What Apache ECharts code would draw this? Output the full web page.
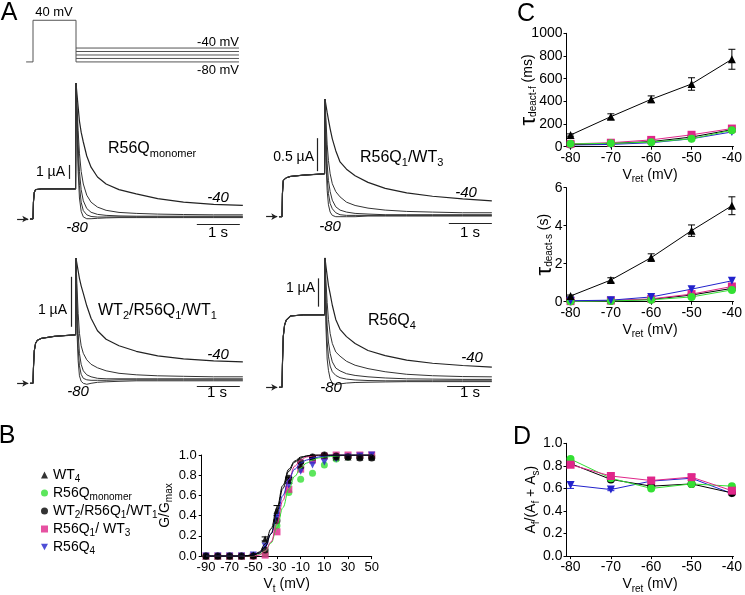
<!DOCTYPE html>
<html><head><meta charset="utf-8">
<script src="https://cdn.jsdelivr.net/npm/echarts@6/dist/echarts.min.js"></script>
<style>html,body{margin:0;padding:0;background:#fff}#c{width:745px;height:595px}</style>
</head><body><div id="c"></div>
<script>
// ================= DATA =================
// Panel A: voltage protocol (mV)
const protoHold = -80, protoStep = 40;
const protoTailV = [-40, -50, -60, -70, -80];
const protoTime = [-0.16, 0, 1, 4.79];           // s: start, step on, step off, end

// Panel A: current traces (µA) vs time (s); activation part then tail part
const tAct  = [-0.07, 0, 0.01, 0.03, 0.06, 0.1, 0.2, 0.5, 0.99];
const tTail = [1.0, 1.02, 1.05, 1.08, 1.12, 1.17, 1.25, 1.35, 1.5, 1.7, 2.0, 2.4, 2.9, 3.5, 4.2, 4.88];

const actMono = [0, 0, 1.2, 1.9, 2.1, 2.15, 2.15, 2.15, 2.15];
const tailsMono = [
  [9.7, 9.0, 8.0, 7.0, 6.2, 5.5, 4.5, 3.7, 3.0, 2.5, 2.1, 1.8, 1.45, 1.2, 1.05, 0.98],
  [9.7, 8.3, 6.3, 4.7, 3.4, 2.5, 1.7, 1.2, 0.85, 0.62, 0.47, 0.4, 0.35, 0.32, 0.3, 0.3],
  [9.7, 7.8, 5.3, 3.4, 2.1, 1.3, 0.75, 0.48, 0.33, 0.26, 0.22, 0.2, 0.2, 0.2, 0.2, 0.2],
  [9.7, 7.3, 4.3, 2.4, 1.2, 0.6, 0.3, 0.18, 0.14, 0.14, 0.15, 0.15, 0.15, 0.15, 0.15, 0.15],
  [9.7, 6.8, 3.4, 1.5, 0.55, 0.15, 0.02, 0.02, 0.05, 0.08, 0.1, 0.1, 0.1, 0.1, 0.1, 0.1]
];
const actQ1WT3 = [0, 0, 0.35, 0.55, 0.58, 0.59, 0.61, 0.63, 0.65];
const tailsQ1WT3 = [
  [1.78, 1.7, 1.58, 1.47, 1.33, 1.18, 1.0, 0.83, 0.72, 0.62, 0.52, 0.43, 0.36, 0.31, 0.27, 0.24],
  [1.78, 1.5, 1.1, 0.85, 0.65, 0.5, 0.38, 0.3, 0.22, 0.17, 0.13, 0.1, 0.08, 0.07, 0.06, 0.06],
  [1.78, 1.3, 0.8, 0.55, 0.38, 0.25, 0.15, 0.1, 0.07, 0.05, 0.04, 0.03, 0.03, 0.03, 0.03, 0.03],
  [1.78, 1.1, 0.6, 0.35, 0.2, 0.12, 0.06, 0.03, 0.02, 0.02, 0.02, 0.02, 0.02, 0.02, 0.02, 0.02],
  [1.78, 0.9, 0.4, 0.18, 0.07, 0.02, 0.0, 0.0, 0.0, 0.0, 0.01, 0.01, 0.01, 0.01, 0.01, 0.01]
];
const actWT2Q1WT1 = [0, 0, 0.3, 0.65, 0.8, 0.86, 0.9, 0.94, 0.97];
const tailsWT2Q1WT1 = [
  [2.5, 2.4, 2.25, 2.1, 1.95, 1.8, 1.55, 1.3, 1.05, 0.88, 0.75, 0.64, 0.55, 0.49, 0.45, 0.43],
  [2.5, 2.0, 1.4, 1.0, 0.75, 0.6, 0.47, 0.38, 0.31, 0.25, 0.2, 0.17, 0.15, 0.14, 0.13, 0.13],
  [2.5, 1.7, 1.0, 0.6, 0.38, 0.25, 0.17, 0.13, 0.1, 0.09, 0.09, 0.09, 0.09, 0.09, 0.09, 0.09],
  [2.5, 1.4, 0.7, 0.35, 0.18, 0.1, 0.07, 0.06, 0.06, 0.06, 0.07, 0.07, 0.07, 0.07, 0.07, 0.07],
  [2.5, 1.1, 0.45, 0.15, 0.04, 0.0, -0.02, 0.0, 0.02, 0.03, 0.04, 0.05, 0.05, 0.05, 0.05, 0.05]
];
const actQ4 = [0, 0, 0.8, 1.8, 2.2, 2.38, 2.52, 2.56, 2.56];
const tailsQ4 = [
  [4.57, 4.3, 3.95, 3.6, 3.3, 2.9, 2.4, 2.05, 1.79, 1.55, 1.3, 1.12, 0.96, 0.85, 0.77, 0.71],
  [4.57, 3.8, 3.0, 2.4, 1.9, 1.55, 1.25, 1.1, 0.92, 0.78, 0.66, 0.55, 0.46, 0.41, 0.38, 0.37],
  [4.57, 3.3, 2.2, 1.6, 1.2, 0.9, 0.68, 0.58, 0.48, 0.42, 0.37, 0.33, 0.3, 0.29, 0.28, 0.28],
  [4.57, 2.8, 1.6, 1.1, 0.75, 0.55, 0.42, 0.34, 0.29, 0.26, 0.24, 0.23, 0.23, 0.23, 0.23, 0.23],
  [4.57, 2.2, 1.0, 0.6, 0.3, 0.14, 0.1, 0.12, 0.15, 0.17, 0.18, 0.19, 0.2, 0.2, 0.2, 0.2]
];
// scale bars: 1 s and current bar size (µA)
const scaleCurrent = [1, 0.5, 1, 1];

// Panel B: G/Gmax vs Vt
const vTest = [-90, -80, -70, -60, -50, -40, -30, -20, -10, 0, 10, 20, 30, 40, 50];
const gWT4      = [0, 0, 0, 0, 0.01, 0.17, 0.45, 0.75, 0.9, 0.98, 1.0, 0.98, 0.98, 0.98, 0.98];
const gMono     = [0, 0, 0, 0, 0, 0.02, 0.3, 0.63, 0.76, 0.82, 0.9, 0.96, 0.98, 0.99, 0.99];
const gWT2Q1WT1 = [0, 0, 0, 0, 0, 0.06, 0.35, 0.77, 0.93, 0.98, 1.0, 0.99, 0.98, 0.97, 0.97];
const gQ1WT3    = [0, 0, 0, 0, 0, 0.01, 0.24, 0.66, 0.86, 0.95, 0.99, 1.0, 1.0, 1.0, 1.0];
const gQ4       = [0, 0, 0, 0, 0.01, 0.1, 0.38, 0.7, 0.84, 0.9, 0.93, 0.96, 0.98, 0.99, 1.0];
const semWT4B   = [0, 0, 0, 0, 0.01, 0.02, 0.05, 0.03, 0.02, 0.01, 0, 0.01, 0.01, 0.01, 0.01];
// fitted Boltzmann curves
const fitV        = [-90, -60, -50, -45, -40, -35, -30, -25, -20, -15, -10, -5, 0, 5, 10, 20, 30, 50];
const fitWT4      = [0, 0, 0.01, 0.04, 0.12, 0.27, 0.48, 0.7, 0.86, 0.94, 0.98, 0.99, 1, 1, 1, 1, 1, 1];
const fitWT2Q1WT1 = [0, 0, 0.01, 0.03, 0.09, 0.22, 0.44, 0.67, 0.84, 0.93, 0.97, 0.99, 1, 1, 1, 1, 1, 1];
const fitQ1WT3    = [0, 0, 0, 0.01, 0.05, 0.14, 0.32, 0.55, 0.76, 0.89, 0.95, 0.98, 0.99, 1, 1, 1, 1, 1];
const fitMono     = [0, 0, 0, 0.02, 0.05, 0.13, 0.28, 0.48, 0.66, 0.79, 0.87, 0.92, 0.95, 0.97, 0.98, 0.99, 1, 1];
const fitQ4       = [0, 0, 0.01, 0.03, 0.1, 0.22, 0.4, 0.6, 0.76, 0.86, 0.92, 0.95, 0.97, 0.98, 0.99, 1, 1, 1];

// Panel C: deactivation time constants vs Vret
const vRet = [-80, -70, -60, -50, -40];
const tauF_WT4      = [103, 265, 418, 553, 771];
const tauF_WT4_sem  = [10, 25, 30, 55, 88];
const tauF_Q1WT3    = [25, 35, 60, 105, 160];
const tauF_WT2Q1WT1 = [20, 30, 45, 85, 150];
const tauF_Mono     = [25, 30, 40, 70, 145];
const tauF_Q4       = [15, 20, 35, 70, 130];
const tauS_WT4      = [0.3, 1.14, 2.32, 3.74, 5.05];
const tauS_WT4_sem  = [0.05, 0.12, 0.2, 0.3, 0.47];
const tauS_Q4       = [0.05, 0.08, 0.25, 0.66, 1.1];
const tauS_Q1WT3    = [0.03, 0.06, 0.15, 0.4, 0.8];
const tauS_WT2Q1WT1 = [0.02, 0.05, 0.12, 0.35, 0.7];
const tauS_Mono     = [0.02, 0.04, 0.1, 0.25, 0.62];

// Panel D: fast fraction
const afMono     = [0.86, 0.69, 0.6, 0.64, 0.62];
const afQ1WT3    = [0.81, 0.71, 0.67, 0.70, 0.58];
const afWT2Q1WT1 = [0.82, 0.68, 0.62, 0.64, 0.56];
const afQ4       = [0.63, 0.59, 0.665, 0.69, 0.555];
const afQ4_sem   = [0.03, 0.01, 0.01, 0.01, 0.01];

// ================= STYLE =================
const FONT = 'Liberation Sans, Arial, sans-serif';
const C_BLACK = '#000000', C_GREEN = '#33e033', C_MAG = '#e0268a', C_BLUE = '#2222cc';
const DOWN_TRI = 'path://M0,0L10,0L5,9Z';
const traceColor = '#333';

const zip = (xs, ys) => xs.map((x, i) => [x, ys[i]]);

const grids = [
  {left: 24.4, top: 16.8, width: 219.3, height: 48.6},   // 0 protocol
  {left: 15.8, top: 72, width: 227.9, height: 154},      // 1 A1
  {left: 264.8, top: 78.1, width: 227.9, height: 148.5}, // 2 A2
  {left: 15.8, top: 253.3, width: 227.9, height: 140},   // 3 A3
  {left: 264.8, top: 254.3, width: 227.9, height: 141.5},// 4 A4
  {left: 201.7, top: 455, width: 170, height: 102.3},    // 5 B
  {left: 566.5, top: 33.3, width: 169.7, height: 113.4}, // 6 C top
  {left: 566.5, top: 187.7, width: 169.7, height: 114},  // 7 C bottom
  {left: 566.5, top: 443.3, width: 169.7, height: 114}   // 8 D
];
const hiddenRanges = [
  {x: [-0.2, 4.9], y: [-90, 50]},
  {x: [-0.4, 4.9], y: [-0.5, 10.5]},
  {x: [-0.4, 4.9], y: [-0.15, 2.1]},
  {x: [-0.4, 4.9], y: [-0.2, 2.6]},
  {x: [-0.4, 4.9], y: [-0.3, 4.7]}
];

const rich = {
  m: {fontSize: 14, fontFamily: FONT, color: '#000', verticalAlign: 'middle'},
  s: {fontSize: 10, fontFamily: FONT, color: '#000', lineHeight: 10, padding: [9, 0, 0, 0], verticalAlign: 'middle'},
  t: {fontSize: 22, fontFamily: FONT, color: '#000', verticalAlign: 'middle'}
};

const xAxes = [], yAxes = [];
hiddenRanges.forEach((r, i) => {
  xAxes.push({type: 'value', gridIndex: i, show: false, min: r.x[0], max: r.x[1]});
  yAxes.push({type: 'value', gridIndex: i, show: false, min: r.y[0], max: r.y[1]});
});
const axisBase = {
  axisLine: {show: true, onZero: false, lineStyle: {color: '#000', width: 1}},
  axisTick: {show: true, length: 3, lineStyle: {color: '#000'}},
  splitLine: {show: false},
  nameLocation: 'middle'
};
// B
xAxes.push(Object.assign({}, axisBase, {type: 'value', gridIndex: 5, min: -93.6, max: 50,
  axisTick: {show: true, length: 3, lineStyle: {color: '#000'}, customValues: [-90, -70, -50, -30, -10, 10, 30, 50]},
  axisLabel: {color: '#000', fontSize: 13, fontFamily: FONT, margin: 5, customValues: [-90, -70, -50, -30, -10, 10, 30, 50]},
  name: 'V{s|t}{m| (mV)}', nameGap: 21, nameTextStyle: {fontSize: 14, fontFamily: FONT, color: '#000', rich}}));
yAxes.push(Object.assign({}, axisBase, {type: 'value', gridIndex: 5, min: 0, max: 1, interval: 0.2,
  axisLabel: {color: '#000', fontSize: 13, fontFamily: FONT, margin: 5, formatter: v => v.toFixed(1)},
  name: '{m|G/G}{s|max}', nameGap: 26, nameTextStyle: {fontSize: 14, fontFamily: FONT, color: '#000', rich}}));
// C top, C bottom, D
const vretX = gi => Object.assign({}, axisBase, {type: 'value', gridIndex: gi, min: -81, max: -39.6,
  axisTick: {show: true, length: 3, lineStyle: {color: '#000'}, customValues: vRet},
  axisLabel: {color: '#000', fontSize: 14, fontFamily: FONT, margin: 4, customValues: vRet},
  name: '{m|V}{s|ret}{m| (mV)}', nameGap: 20, nameTextStyle: {fontSize: 14, fontFamily: FONT, color: '#000', rich}});
xAxes.push(vretX(6), vretX(7), vretX(8));
yAxes.push(Object.assign({}, axisBase, {type: 'value', gridIndex: 6, min: 0, max: 1000, interval: 200,
  axisLabel: {color: '#000', fontSize: 14, fontFamily: FONT, margin: 4, formatter: v => String(v)},
  name: '{t|τ}{s|deact-f}{m| (ms)}', nameGap: 27, nameMoveOverlap: false,
  nameTextStyle: {fontSize: 14, fontFamily: FONT, color: '#000', rich}}));
yAxes.push(Object.assign({}, axisBase, {type: 'value', gridIndex: 7, min: 0, max: 6, interval: 2,
  axisLabel: {color: '#000', fontSize: 14, fontFamily: FONT, margin: 4},
  name: '{t|τ}{s|deact-s}{m| (s)}', nameGap: 11, nameMoveOverlap: false,
  nameTextStyle: {fontSize: 14, fontFamily: FONT, color: '#000', rich}}));
yAxes.push(Object.assign({}, axisBase, {type: 'value', gridIndex: 8, min: 0, max: 1, interval: 0.2,
  axisLabel: {color: '#000', fontSize: 14, fontFamily: FONT, margin: 4, formatter: v => v.toFixed(1)},
  name: '{m|A}{s|f}{m|/(A}{s|f}{m| + A}{s|s}{m|)}', nameGap: 28, nameMoveOverlap: false,
  nameTextStyle: {fontSize: 14, fontFamily: FONT, color: '#000', rich}}));

const series = [];
// --- protocol ---
const pLine = d => ({type: 'line', xAxisIndex: 0, yAxisIndex: 0, data: d, symbol: 'none', silent: true,
  lineStyle: {color: '#555', width: 1}, clip: false, animation: false});
series.push(pLine([[protoTime[0], protoHold], [protoTime[1], protoHold], [protoTime[1], protoStep],
  [protoTime[2], protoStep], [protoTime[2], protoHold]]));
protoTailV.forEach(v => series.push(pLine([[protoTime[2], v], [protoTime[3], v]])));

// --- traces ---
const bars = [ // layout of scale bars (data coords): [tStart of 1 s bar, y of 1 s bar, t of current bar, y0 of current bar]
  [3.81, -0.36, 0.84, 2.86],
  [3.88, -0.1, 0.82, 0.69],
  [3.81, -0.054, 0.88, 1.13],
  [3.84, 0.04, 0.84, 2.85]
];
const traceSets = [[actMono, tailsMono], [actQ1WT3, tailsQ1WT3], [actWT2Q1WT1, tailsWT2Q1WT1], [actQ4, tailsQ4]];
traceSets.forEach(([act, tails], p) => {
  const gi = p + 1;
  tails.forEach((tail, k) => {
    const d = zip(tAct, act).concat(zip(tTail, tail));
    const s = {type: 'line', xAxisIndex: gi, yAxisIndex: gi, data: d, symbol: 'none', silent: true,
      clip: false, animation: false, lineStyle: {color: k === 0 ? '#222' : traceColor, width: k === 0 ? 1.2 : 1}};
    if (k === 0) {
      const b = bars[p];
      s.markLine = {silent: true, symbol: 'none', animation: false, label: {show: false},
        lineStyle: {color: '#222', width: 1.2, type: 'solid'},
        data: [
          [{coord: [b[0], b[1]]}, {coord: [b[0] + 1, b[1]]}],
          [{coord: [b[2], b[3]]}, {coord: [b[2], b[3] + scaleCurrent[p]]}],
          [{coord: [-0.37, 0], symbol: 'none'}, {coord: [-0.11, 0], symbol: 'arrow', symbolSize: [5, 6]}]
        ]};
    }
    series.push(s);
  });
});

// --- error bars ---
function errSeries(gi, xs, ys, es, color) {
  return {type: 'custom', xAxisIndex: gi, yAxisIndex: gi, silent: true, z: 1, animation: false,
    data: xs.map((x, i) => [x, ys[i] - es[i], ys[i] + es[i]]),
    renderItem: (params, api) => {
      const x = api.value(0), p1 = api.coord([x, api.value(1)]), p2 = api.coord([x, api.value(2)]);
      const w = 3.5, st = {stroke: color, lineWidth: 1};
      return {type: 'group', children: [
        {type: 'line', shape: {x1: p1[0], y1: p1[1], x2: p2[0], y2: p2[1]}, style: st},
        {type: 'line', shape: {x1: p1[0] - w, y1: p1[1], x2: p1[0] + w, y2: p1[1]}, style: st},
        {type: 'line', shape: {x1: p2[0] - w, y1: p2[1], x2: p2[0] + w, y2: p2[1]}, style: st}]};
    }};
}

// --- B ---
const bFits = [[fitMono, C_GREEN], [fitQ1WT3, C_MAG], [fitQ4, C_BLUE], [fitWT4, C_BLACK], [fitWT2Q1WT1, C_BLACK]];
bFits.forEach(([f, c], i) => series.push({type: 'line', name: 'fit' + i, xAxisIndex: 5, yAxisIndex: 5,
  data: zip(fitV, f), smooth: 0.4, smoothMonotone: 'x', symbol: 'none', silent: true, animation: false,
  lineStyle: {color: c, width: 1}}));
series.push(errSeries(5, vTest, gWT4, semWT4B, C_BLACK));
const bPts = [
  ['R56Qmonomer', gMono, C_GREEN, 'circle', 0],
  ['R56Q1/ WT3', gQ1WT3, C_MAG, 'rect', 0],
  ['R56Q4', gQ4, C_BLUE, 'triangle', 180],
  ['WT4', gWT4, C_BLACK, 'triangle', 0],
  ['WT2/R56Q1/WT1', gWT2Q1WT1, C_BLACK, 'circle', 0]
];
bPts.forEach(([n, g, c, sym, rot]) => series.push({type: 'scatter', name: n, xAxisIndex: 5, yAxisIndex: 5,
  data: zip(vTest, g), symbol: sym, symbolRotate: rot, symbolSize: 7, itemStyle: {color: c}, animation: false}));

// --- C / D line plots ---
function lp(gi, ys, c, sym, rot) {
  return {type: 'line', xAxisIndex: gi, yAxisIndex: gi, data: zip(vRet, ys), symbol: sym, symbolRotate: rot || 0,
    symbolSize: 8, showAllSymbol: true, lineStyle: {color: c, width: 1}, itemStyle: {color: c}, animation: false, silent: true};
}
series.push(errSeries(6, vRet, tauF_WT4, tauF_WT4_sem, C_BLACK));
series.push(lp(6, tauF_Q4, C_BLUE, 'triangle', 180), lp(6, tauF_WT2Q1WT1, C_BLACK, 'circle'),
  lp(6, tauF_Q1WT3, C_MAG, 'rect'), lp(6, tauF_Mono, C_GREEN, 'circle'), lp(6, tauF_WT4, C_BLACK, 'triangle'));
series.push(errSeries(7, vRet, tauS_WT4, tauS_WT4_sem, C_BLACK));
series.push(lp(7, tauS_WT2Q1WT1, C_BLACK, 'circle'), lp(7, tauS_Q1WT3, C_MAG, 'rect'),
  lp(7, tauS_Mono, C_GREEN, 'circle'), lp(7, tauS_Q4, C_BLUE, 'triangle', 180), lp(7, tauS_WT4, C_BLACK, 'triangle'));
series.push(errSeries(8, vRet, afQ4, afQ4_sem, C_BLUE));
series.push(lp(8, afQ4, C_BLUE, 'triangle', 180), lp(8, afWT2Q1WT1, C_BLACK, 'circle'),
  lp(8, afMono, C_GREEN, 'circle'), lp(8, afQ1WT3, C_MAG, 'rect'));

// ================= TEXT =================
function T(x, y, text, o) {
  o = o || {};
  return {type: 'text', x: x, y: y, silent: true, z: 100,
    style: {text: text, fill: '#000', font: (o.italic ? 'italic ' : '') + (o.size || 14) + 'px ' + FONT,
      align: o.align || 'center', verticalAlign: 'middle', rich: o.rich}};
}
const R15 = {
  m: {fontSize: 16, fontFamily: FONT, color: '#000', verticalAlign: 'middle'},
  s: {fontSize: 11, fontFamily: FONT, color: '#000', lineHeight: 11, padding: [10, 0, 0, 0], verticalAlign: 'middle'}
};
const graphics = [
  T(9, 13, 'A', {size: 25}), T(7, 436, 'B', {size: 25}), T(526, 14, 'C', {size: 25}), T(522, 437, 'D', {size: 25}),
  T(54, 12, '40 mV', {size: 13}), T(239, 42, '-40 mV', {size: 13, align: 'right'}), T(239, 70, '-80 mV', {size: 13, align: 'right'}),
  // A1
  T(65, 172, '1 µA', {align: 'right'}), T(108, 149, '{m|R56Q}{s|monomer}', {align: 'left', rich: R15}),
  T(218, 198, '-40', {italic: true, size: 15}), T(77, 228, '-80', {italic: true, size: 15}), T(218, 233, '1 s', {size: 15}),
  // A2
  T(314, 157, '0.5 µA', {align: 'right'}), T(360, 158, '{m|R56Q}{s|1}{m|/WT}{s|3}', {align: 'left', rich: R15}),
  T(466, 193, '-40', {italic: true, size: 15}), T(330, 227, '-80', {italic: true, size: 15}), T(470, 233, '1 s', {size: 15}),
  // A3
  T(67, 310, '1 µA', {align: 'right'}), T(98, 311, '{m|WT}{s|2}{m|/R56Q}{s|1}{m|/WT}{s|1}', {align: 'left', rich: R15}),
  T(218, 355, '-40', {italic: true, size: 15}), T(78, 392, '-80', {italic: true, size: 15}), T(217, 393, '1 s', {size: 15}),
  // A4
  T(315, 288, '1 µA', {align: 'right'}), T(368, 321, '{m|R56Q}{s|4}', {align: 'left', rich: R15}),
  T(472, 358, '-40', {italic: true, size: 15}), T(331, 388, '-80', {italic: true, size: 15}), T(470, 393, '1 s', {size: 15})
];

const legendNames = {
  'WT4': '{m|WT}{s|4}',
  'R56Qmonomer': '{m|R56Q}{s|monomer}',
  'WT2/R56Q1/WT1': '{m|WT}{s|2}{m|/R56Q}{s|1}{m|/WT}{s|1}',
  'R56Q1/ WT3': '{m|R56Q}{s|1}{m|/ WT}{s|3}',
  'R56Q4': '{m|R56Q}{s|4}'
};

const chart = echarts.init(document.getElementById('c'), null, {renderer: 'canvas'});
chart.setOption({
  backgroundColor: '#fff',
  animation: false,
  textStyle: {fontFamily: FONT},
  grid: grids,
  xAxis: xAxes,
  yAxis: yAxes,
  legend: {
    orient: 'vertical', left: 36, top: 461, itemGap: 0, itemWidth: 7, itemHeight: 7,
    selectedMode: false,
    data: [
      {name: 'WT4', icon: 'triangle'},
      {name: 'R56Qmonomer', icon: 'circle'},
      {name: 'WT2/R56Q1/WT1', icon: 'circle'},
      {name: 'R56Q1/ WT3', icon: 'rect'},
      {name: 'R56Q4', icon: DOWN_TRI}
    ],
    formatter: n => legendNames[n],
    textStyle: {fontSize: 14, color: '#000', rich: {
      m: {fontSize: 14, fontFamily: FONT, color: '#000', verticalAlign: 'middle'},
      s: {fontSize: 10, fontFamily: FONT, color: '#000', lineHeight: 10, padding: [8, 0, 0, 0], verticalAlign: 'middle'}
    }}
  },
  series: series,
  graphic: graphics
});
</script></body></html>
